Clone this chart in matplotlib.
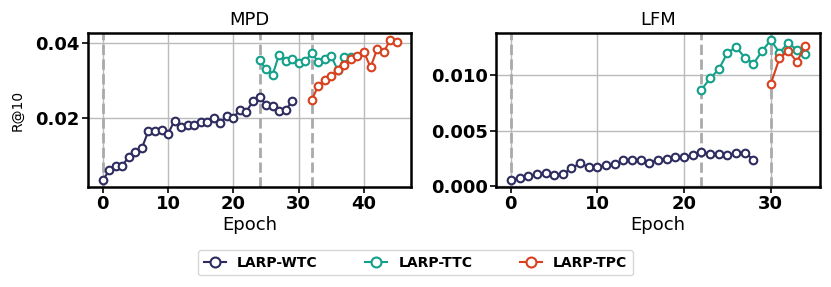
import numpy as np
import matplotlib
matplotlib.use("Agg")
from matplotlib import pyplot as plt

# colours
c_wtc = '#2d2b5f'
c_ttc = '#13a08a'
c_tpc = '#d9411e'

# MPD data (R@10 per epoch)
mpd_wtc = [0.0033, 0.0059, 0.0070, 0.0072, 0.0096, 0.0107, 0.0119, 0.0165, 0.0165, 0.0167,
           0.0157, 0.0192, 0.0176, 0.0179, 0.0181, 0.0187, 0.0189, 0.0198, 0.0185, 0.0205,
           0.0200, 0.0220, 0.0216, 0.0244, 0.0255, 0.0233, 0.0231, 0.0218, 0.0220, 0.0244]
mpd_ttc = [0.0353, 0.0329, 0.0314, 0.0368, 0.0350, 0.0357, 0.0345, 0.0350, 0.0373, 0.0348,
           0.0357, 0.0363, 0.0326, 0.0362, 0.0362]
mpd_tpc = [0.0247, 0.0285, 0.0299, 0.0310, 0.0326, 0.0340, 0.0357, 0.0365, 0.0375, 0.0334,
           0.0382, 0.0374, 0.0407, 0.0402]
mpd_ttc_start = 24
mpd_tpc_start = 32

# LFM data
lfm_wtc = [0.00056, 0.00078, 0.00095, 0.0011, 0.0012, 0.0010, 0.0011, 0.00163, 0.00205, 0.00173,
           0.00176, 0.0019, 0.00196, 0.00232, 0.00232, 0.00232, 0.0021, 0.0024, 0.00247, 0.0026,
           0.0026, 0.0028, 0.0031, 0.0029, 0.0029, 0.0028, 0.0030, 0.0030, 0.0024]
lfm_ttc = [0.00866, 0.00967, 0.01048, 0.01196, 0.01247, 0.01152, 0.01098, 0.01211, 0.0131,
           0.01196, 0.01283, 0.01223, 0.01188]
lfm_tpc = [0.00917, 0.01146, 0.01214, 0.01116, 0.01259]
lfm_ttc_start = 22
lfm_tpc_start = 30

fig = plt.figure(figsize=(8.31, 2.87), dpi=100)
ax1 = fig.add_axes([0.106, 0.348, 0.389, 0.537])
ax2 = fig.add_axes([0.597, 0.348, 0.390, 0.537])


def draw(ax, wtc, ttc, tpc, s_ttc, s_tpc, title):
    for xv in [0, s_ttc, s_tpc]:
        ax.axvline(xv, color='#aaaaaa', ls='--', lw=2, zorder=1)
    style = dict(marker='o', mfc='white', ms=5.5, mew=1.5, lw=1.5, zorder=3)
    ax.plot(np.arange(len(wtc)), wtc, color=c_wtc, label='LARP-WTC', **style)
    ax.plot(np.arange(len(ttc)) + s_ttc, ttc, color=c_ttc, label='LARP-TTC', **style)
    ax.plot(np.arange(len(tpc)) + s_tpc, tpc, color=c_tpc, label='LARP-TPC', **style)
    ax.grid(True, color='#bbbbbb', lw=1, zorder=0)
    ax.set_axisbelow(True)
    ax.set_title(title, fontsize=13)
    ax.set_xlabel('Epoch', fontsize=13, labelpad=2)
    for s in ax.spines.values():
        s.set_linewidth(1.8)
    ax.tick_params(labelsize=13, width=1.2, length=4, pad=2)


draw(ax1, mpd_wtc, mpd_ttc, mpd_tpc, mpd_ttc_start, mpd_tpc_start, 'MPD')
ax1.set_xticks([0, 10, 20, 30, 40])
ax1.set_xticklabels(['0', '10', '20', '30', '40'], fontweight='bold')
ax1.set_yticks([0.02, 0.04])
ax1.set_yticklabels(['0.02', '0.04'], fontweight='bold')
ax1.set_ylabel('R@10', fontsize=10, labelpad=8)

draw(ax2, lfm_wtc, lfm_ttc, lfm_tpc, lfm_ttc_start, lfm_tpc_start, 'LFM')
ax2.set_xticks([0, 10, 20, 30])
ax2.set_xticklabels(['0', '10', '20', '30'], fontweight='bold')
ax2.set_yticks([0.0, 0.005, 0.010])
ax2.set_yticklabels(['0.000', '0.005', '0.010'], fontweight='bold')

handles, labels = ax1.get_legend_handles_labels()
fig.legend(handles, labels, loc='center', bbox_to_anchor=(0.5, 0.084), ncol=3,
           prop={'weight': 'bold', 'size': 10}, handlelength=1.6, markerscale=1.3,
           columnspacing=3.4, frameon=True)

fig.savefig('out.png', dpi=100)
